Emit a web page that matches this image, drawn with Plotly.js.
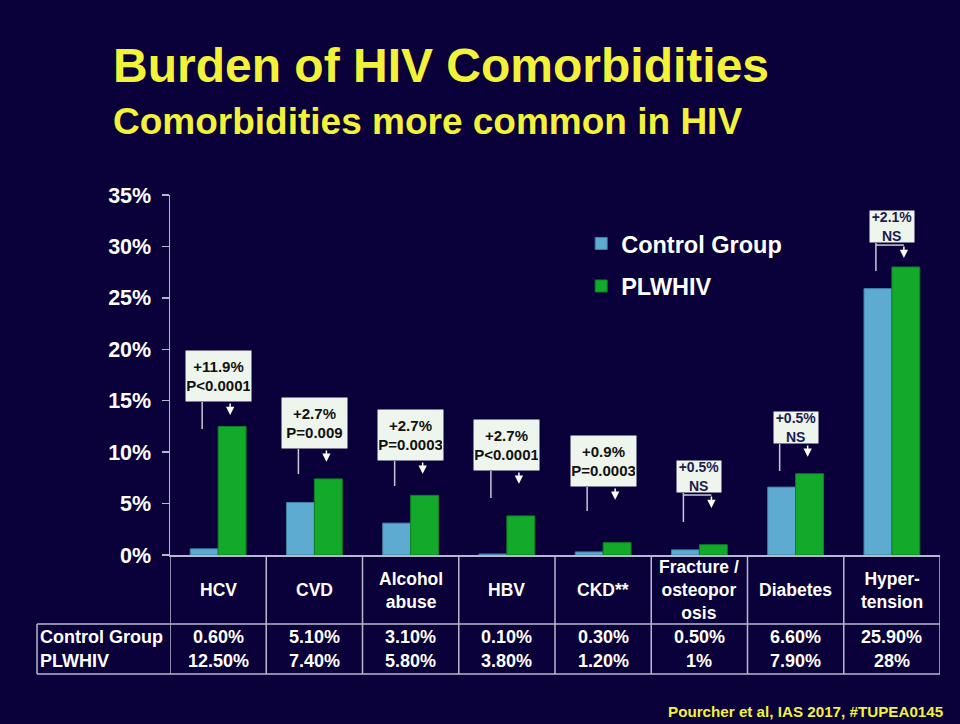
<!DOCTYPE html>
<html>
<head>
<meta charset="utf-8">
<script src="https://cdn.plot.ly/plotly-3.0.1.min.js"></script>
<style>
html,body{margin:0;padding:0;background:#0a003a;}
#chart{width:960px;height:724px;}
</style>
</head>
<body>
<div id="chart"></div>
<script>
// ---- data ----
const categories = ["HCV","CVD","Alcohol<br>abuse","HBV","CKD**","Fracture /<br>osteopor<br>osis","Diabetes","Hyper-<br>tension"];
const controlValues = [0.6, 5.1, 3.1, 0.1, 0.3, 0.5, 6.6, 25.9];
const plwhivValues  = [12.5, 7.4, 5.8, 3.8, 1.2, 1.0, 7.9, 28.0];
const controlLabels = ["0.60%","5.10%","3.10%","0.10%","0.30%","0.50%","6.60%","25.90%"];
const plwhivLabels  = ["12.50%","7.40%","5.80%","3.80%","1.20%","1%","7.90%","28%"];
const diffLabels    = ["+11.9%","+2.7%","+2.7%","+2.7%","+0.9%","+0.5%","+0.5%","+2.1%"];
const pLabels       = ["P<0.0001","P=0.009","P=0.0003","P<0.0001","P=0.0003","NS","NS","NS"];
const seriesNames   = ["Control Group","PLWHIV"];
const yTickVals     = [0,5,10,15,20,25,30,35];

// ---- layout positions for callouts (in % units) ----
const boxBottom = [14.87, 10.31, 9.14, 8.17, 6.61, 6.03, 10.79, 30.33];
const lineEnd   = [12.25, 7.87, 6.71, 5.54, 4.28, 3.21, 8.17, 27.61];
const bracket   = [false,false,false,false,false,true,false,true];

const FONT = "Liberation Sans, Arial, sans-serif";
const yellow = "#f2f23a";
const white = "#ffffff";
const gridLine = "#b8b8cc";

const traces = [
  {type:"bar", name:"<b>"+seriesNames[0]+"</b>", x:categories, y:controlValues,
   marker:{color:"#5eabd1", line:{color:"#3f7fa6", width:1}}, legendgroup:"a", hoverinfo:"y"},
  {type:"bar", name:"<b>"+seriesNames[1]+"</b>", x:categories, y:plwhivValues,
   marker:{color:"#13aa2c", line:{color:"#0f7f22", width:1}}, legendgroup:"b", hoverinfo:"y"}
];

const annotations = [];
const shapes = [];
const pxToPaper = py => (555 - py) / 360;

// Titles
annotations.push({xref:"paper", yref:"paper", x:-0.076, y:pxToPaper(66), xanchor:"left", yanchor:"middle",
  text:"<b>Burden of HIV Comorbidities</b>", showarrow:false, font:{family:FONT, size:48, color:yellow}});
annotations.push({xref:"paper", yref:"paper", x:-0.076, y:pxToPaper(121), xanchor:"left", yanchor:"middle",
  text:"<b>Comorbidities more common in HIV</b>", showarrow:false, font:{family:FONT, size:37, color:yellow}});
annotations.push({xref:"paper", yref:"paper", x:(946-170)/770, y:pxToPaper(711), xanchor:"right", yanchor:"middle",
  text:"<b>Pourcher et al, IAS 2017, #TUPEA0145</b>", showarrow:false, font:{family:FONT, size:15.2, color:yellow}});

// Callouts
categories.forEach((c, i) => {
  const small = pLabels[i] === "NS";
  annotations.push({xref:"x", yref:"y", x:i, y:boxBottom[i], xanchor:"center", yanchor:"bottom",
    text:"<b>"+diffLabels[i]+"<br>"+pLabels[i]+"</b>", showarrow:false,
    bgcolor:"#eef5ec", borderpad:1, width: small?42:63, height: small?29:48,
    font:{family:FONT, size: small?14:15, color: small?"#1c1c50":"#111111"}});
  const xl = i - 0.166, xa = i + 0.125;
  const top = boxBottom[i] - (bracket[i] ? 0.2 : 0);
  shapes.push({type:"line", xref:"x", yref:"y", x0:xl, x1:xl, y0:boxBottom[i], y1:lineEnd[i],
    line:{color:"#c8c8d8", width:1.5}});
  if (bracket[i]) {
    shapes.push({type:"line", xref:"x", yref:"y", x0:xl, x1:xa, y0:top, y1:top,
      line:{color:"#c8c8d8", width:1.5}});
  }
  annotations.push({xref:"x", yref:"y", axref:"x", ayref:"y", x:xa, y:top-1.25, ax:xa, ay:top,
    text:"", showarrow:true, arrowhead:2, arrowsize:1.1, arrowwidth:1.5, arrowcolor:"#ffffff", standoff:0});
});

// Table
const rowTop = pxToPaper(624), rowBottom = pxToPaper(674);
for (let k = 0; k <= categories.length; k++) {
  shapes.push({type:"line", xref:"x", yref:"paper", x0:k-0.5, x1:k-0.5, y0:0, y1:rowBottom,
    line:{color:gridLine, width:1.5}});
}
shapes.push({type:"line", xref:"paper", yref:"paper", x0:-0.1727, x1:1, y0:rowTop, y1:rowTop, line:{color:gridLine, width:1.5}});
shapes.push({type:"line", xref:"paper", yref:"paper", x0:-0.1727, x1:1, y0:rowBottom, y1:rowBottom, line:{color:gridLine, width:1.5}});
shapes.push({type:"line", xref:"paper", yref:"paper", x0:-0.1727, x1:-0.1727, y0:rowTop, y1:rowBottom, line:{color:gridLine, width:1.5}});

categories.forEach((c, i) => {
  annotations.push({xref:"x", yref:"paper", x:i, y:pxToPaper(590), xanchor:"center", yanchor:"middle",
    text:"<b>"+c+"</b>", showarrow:false, font:{family:FONT, size:17.5, color:white}});
  annotations.push({xref:"x", yref:"paper", x:i, y:pxToPaper(637), xanchor:"center", yanchor:"middle",
    text:"<b>"+controlLabels[i]+"</b>", showarrow:false, font:{family:FONT, size:18, color:white}});
  annotations.push({xref:"x", yref:"paper", x:i, y:pxToPaper(661), xanchor:"center", yanchor:"middle",
    text:"<b>"+plwhivLabels[i]+"</b>", showarrow:false, font:{family:FONT, size:18, color:white}});
});
annotations.push({xref:"paper", yref:"paper", x:(38-170)/770, y:pxToPaper(637), xanchor:"left", yanchor:"middle",
  text:"<b>"+seriesNames[0]+"</b>", showarrow:false, font:{family:FONT, size:18, color:white}});
annotations.push({xref:"paper", yref:"paper", x:(38-170)/770, y:pxToPaper(661), xanchor:"left", yanchor:"middle",
  text:"<b>"+seriesNames[1]+"</b>", showarrow:false, font:{family:FONT, size:18, color:white}});

const layout = {
  width:960, height:724,
  paper_bgcolor:"#0a003a", plot_bgcolor:"#0a003a",
  margin:{l:170, r:20, t:195, b:169},
  barmode:"group", bargap:0.42, bargroupgap:0,
  font:{family:FONT, color:white},
  xaxis:{type:"category", showticklabels:false, ticks:"", showgrid:false, zeroline:false,
    showline:true, linecolor:gridLine, linewidth:1.5, range:[-0.5, 7.5], fixedrange:true},
  yaxis:{range:[0,35], tickvals:yTickVals, ticktext:yTickVals.map(v=>"<b>"+v+"%</b>"),
    showgrid:false, zeroline:false, showline:true, linecolor:gridLine, linewidth:1.5,
    ticks:"outside", ticklen:7, tickcolor:gridLine, tickwidth:1.5, ticklabelstandoff:6,
    tickfont:{family:FONT, size:21.5, color:white}, fixedrange:true},
  showlegend:true,
  legend:{x:0.534, y:0.926, xanchor:"left", yanchor:"top", bgcolor:"rgba(0,0,0,0)",
    font:{family:FONT, size:23.5, color:white}, traceorder:"grouped", tracegroupgap:9},
  annotations:annotations, shapes:shapes
};

Plotly.newPlot("chart", traces, layout, {displayModeBar:false, staticPlot:true});
</script>
</body>
</html>
